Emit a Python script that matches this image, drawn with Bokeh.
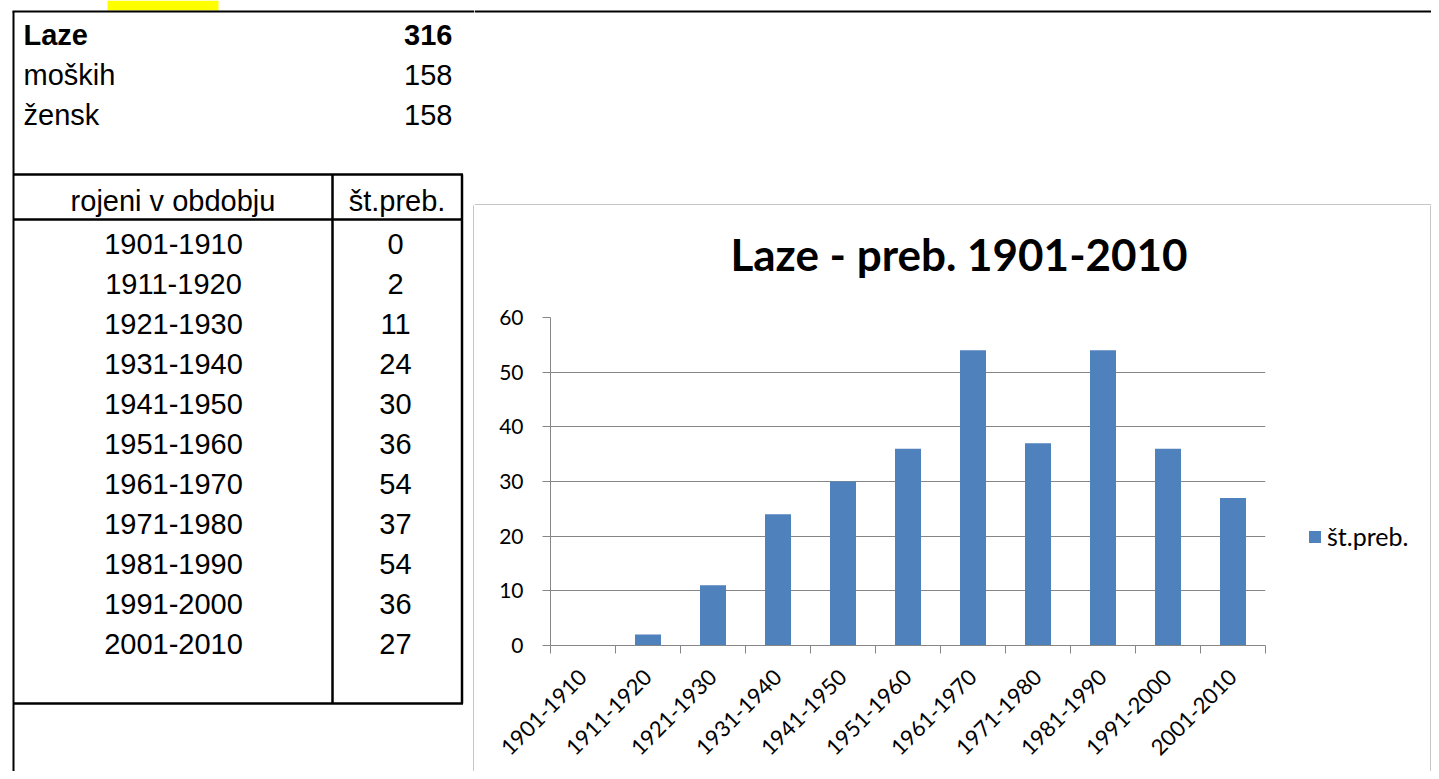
import math
from bokeh.plotting import figure
from bokeh.models import Range1d, FixedTicker, Legend, LegendItem
from bokeh.layouts import row, column
from bokeh.embed import file_html
from bokeh.resources import INLINE
from bokeh.core.properties import value

# ---------------- data ----------------
summary_labels = ["Laze", "moških", "žensk"]
summary_values = ["316", "158", "158"]
col_headers = ["rojeni v obdobju", "št.preb."]
periods = ["1901-1910", "1911-1920", "1921-1930", "1931-1940", "1941-1950",
           "1951-1960", "1961-1970", "1971-1980", "1981-1990", "1991-2000",
           "2001-2010"]
counts = [0, 2, 11, 24, 30, 36, 54, 37, 54, 36, 27]
chart_title = "Laze - preb. 1901-2010"
series_name = "št.preb."
y_ticks = [0, 10, 20, 30, 40, 50, 60]

# ---------------- styles ----------------
ARIAL = value("Liberation Sans")
FS = value("29px")
BLUE = "#4F81BD"
GRAY = "#868686"
BOX_GRAY = "#8C8C8C"
MID = 10  # distance from text middle to baseline (29px Arial)


def blank(width, height, xr, yr):
    f = figure(width=width, height=height, x_range=Range1d(*xr), y_range=Range1d(*yr),
               output_backend="svg", toolbar_location=None, min_border=0,
               x_axis_location=None, y_axis_location=None, outline_line_color=None)
    f.grid.visible = False
    return f


def txt(fig, xs, ys, texts, align, bold=False):
    fig.text(x=xs, y=[y - MID for y in ys], text=texts, text_font=ARIAL, text_font_size=FS,
             text_font_style="bold" if bold else "normal", text_align=align,
             text_baseline="middle", text_color="black")


# ---------------- left spreadsheet part (pixel coordinates) ----------------
pl = blank(474, 771, (0, 474), (771, 0))

pl.quad(left=[107], right=[218], top=[0], bottom=[10], fill_color="#FFFF00", line_color=None)

pl.segment(x0=[13, 12], y0=[11, 11], x1=[13, 474], y1=[771, 11], line_color="black", line_width=2)
pl.segment(x0=[13, 13, 13, 332, 461.5], y0=[174, 219, 703, 174, 174],
           x1=[462.5, 462.5, 462.5, 332, 461.5], y1=[174, 219, 703, 703, 703],
           line_color="black", line_width=2.5)
pl.segment(x0=[473.5], y0=[205], x1=[473.5], y1=[771], line_color=BOX_GRAY, line_width=1)

sum_y = [44 + 40 * i for i in range(len(summary_labels))]
txt(pl, [23], sum_y[:1], summary_labels[:1], "left", bold=True)
txt(pl, [452], sum_y[:1], summary_values[:1], "right", bold=True)
txt(pl, [23] * 2, sum_y[1:], summary_labels[1:], "left")
txt(pl, [452] * 2, sum_y[1:], summary_values[1:], "right")

txt(pl, [172.5, 396.5], [210, 210], col_headers, "center")

row_y = [253 + 40 * i for i in range(len(periods))]
txt(pl, [173] * len(periods), row_y, periods, "center")
txt(pl, [395] * len(periods), row_y, [str(c) for c in counts], "center")

# ---------------- top right strip ----------------
pt = blank(957, 205, (474, 1431), (205, 0))
pt.segment(x0=[474], y0=[11], x1=[1431], y1=[11], line_color="black", line_width=2)
pt.segment(x0=[474], y0=[204.5], x1=[1431], y1=[204.5], line_color=BOX_GRAY, line_width=1)

# ---------------- chart title (its frame is aligned with the chart frame 550..1265) -------
ptitle = blank(801, 85, (550, 1265), (290, 205))
ptitle.text(x=[958.5], y=[253], text=[chart_title], text_font=value("Lato"),
            text_font_size=value("44px"), text_font_style="bold", text_align="center",
            text_baseline="middle", text_color="black")

# ---------------- chart ----------------
centers = [i + 0.5 for i in range(len(periods))]
bounds = list(range(len(periods) + 1))

pc = figure(width=801, height=481, x_range=Range1d(0, len(periods)), y_range=Range1d(0, 60),
            output_backend="svg", toolbar_location=None,
            min_border_left=76, min_border_right=10, min_border_top=27, min_border_bottom=126,
            outline_line_color=None)

pc.vbar(x=centers, top=counts, width=0.4, fill_color=BLUE, line_color=None)

xa = pc.xaxis[0]
xa.ticker = FixedTicker(ticks=centers, minor_ticks=bounds)
xa.major_label_overrides = {c: lab for c, lab in zip(centers, periods)}
xa.axis_line_color = GRAY
xa.major_tick_out = 0
xa.major_tick_in = 0
xa.minor_tick_out = 8
xa.minor_tick_in = 0
xa.minor_tick_line_color = GRAY
xa.major_label_orientation = math.pi / 4
xa.major_label_text_font = "Lato"
xa.major_label_text_font_size = "22px"
xa.major_label_text_color = "black"
xa.major_label_standoff = 20

ya = pc.yaxis[0]
ya.ticker = FixedTicker(ticks=y_ticks)
ya.axis_line_color = GRAY
ya.major_tick_out = 8
ya.major_tick_in = 0
ya.major_tick_line_color = GRAY
ya.minor_tick_line_color = None
ya.major_label_text_font = "Lato"
ya.major_label_text_font_size = "21px"
ya.major_label_text_color = "black"
ya.major_label_standoff = 19

pc.xgrid.visible = False
pc.ygrid.ticker = FixedTicker(ticks=y_ticks)
pc.ygrid.grid_line_color = GRAY

# ---------------- legend panel ----------------
pleg = blank(156, 566, (1275, 1431), (771, 205))
pleg.segment(x0=[1430.5], y0=[205], x1=[1430.5], y1=[771], line_color=BOX_GRAY, line_width=1)
# legend swatch source (kept outside the visible area of this panel)
leg_r = pleg.vbar(x=[0], top=[1], bottom=[0], width=0.4, fill_color=BLUE, line_color=None)
legend = Legend(items=[LegendItem(label=series_name, renderers=[leg_r])], location=(32, 220),
                border_line_color=None, background_fill_alpha=0, padding=0, margin=0,
                glyph_width=15, glyph_height=15, label_standoff=5,
                label_text_font="Lato", label_text_font_size="25px", label_text_color="black")
pleg.add_layout(legend)

layout = row(pl, column(pt, row(column(ptitle, pc), pleg)))

with open("out.html", "w") as f:
    f.write(file_html(layout, INLINE))
